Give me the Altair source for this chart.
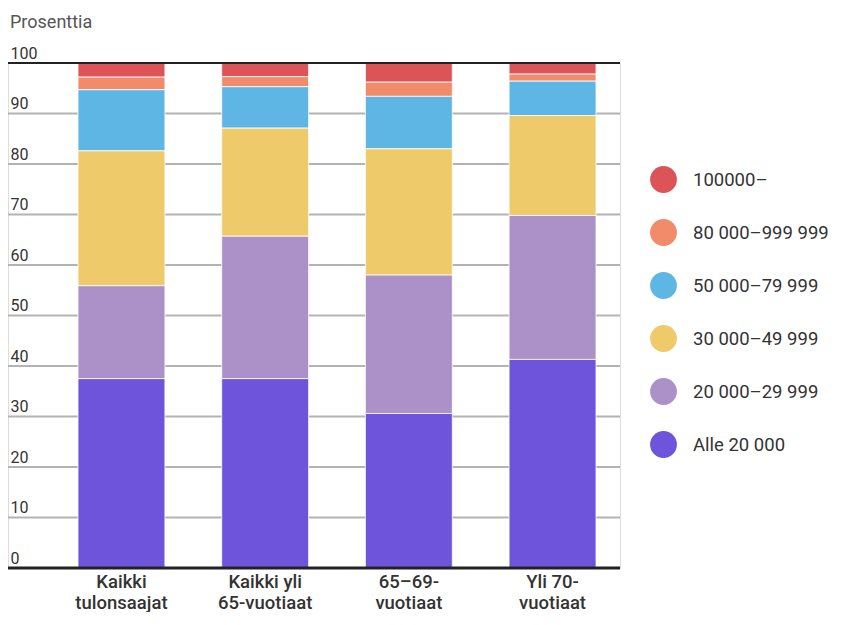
import altair as alt
import pandas as pd

categories = ["Kaikki|tulonsaajat", "Kaikki yli|65-vuotiaat", "65\u201369-|vuotiaat", "Yli 70-|vuotiaat"]
groups = ["100000\u2013", "80 000\u2013999 999", "50 000\u201379 999", "30 000\u201349 999", "20 000\u201329 999", "Alle 20 000"]
colors = ["#dd5458", "#f28b6a", "#5eb6e4", "#eeca6b", "#ab91c7", "#6e54db"]

alle_20000 = [37.5, 37.5, 30.6, 41.3]
k20_30 = [18.4, 28.2, 27.4, 28.5]
k30_50 = [26.7, 21.4, 25.0, 19.8]
k50_80 = [12.1, 8.2, 10.4, 6.8]
k80_100 = [2.5, 2.0, 2.8, 1.4]
k100 = [2.8, 2.7, 3.8, 2.2]

y_ticks = [0, 10, 20, 30, 40, 50, 60, 70, 80, 90, 100]

series = [k100, k80_100, k50_80, k30_50, k20_30, alle_20000]
rows = []
for gi, (g, vals) in enumerate(zip(groups, series)):
    for c, v in zip(categories, vals):
        rows.append({"cat": c, "group": g, "value": v, "order": len(groups) - gi})
df = pd.DataFrame(rows)

W, H = 612, 505
yscale = alt.Scale(domain=[0, 100], nice=False)
yaxis = alt.Axis(title=None, values=y_ticks, grid=False, domain=False, ticks=False,
                 tickSize=0, labelAlign="left", labelBaseline="alphabetic",
                 labelPadding=-2, labelOffset=-5, labelFont="Roboto",
                 labelFontSize=16, labelColor="#333333", labelOverlap=False)

grid = alt.Chart(pd.DataFrame({"v": [t for t in y_ticks if 0 < t < 100]})).mark_rule(
    color="#b3b3b3", strokeWidth=2
).encode(y=alt.Y("v:Q", scale=yscale, axis=yaxis), x=alt.value(0), x2=alt.value(W))

bars = alt.Chart(df).mark_bar(stroke="white", strokeWidth=1, strokeOpacity=0.8).encode(
    x=alt.X("cat:N", sort=categories,
            scale=alt.Scale(range=[70, 588], paddingInner=0.395, paddingOuter=0),
            axis=alt.Axis(title=None, domain=False, ticks=False, labelAngle=0,
                          labelExpr="split(datum.value, '|')",
                          labelFont="Roboto", labelFontSize=18.5, labelFontWeight=500,
                          labelColor="#333333", labelBaseline="top", labelPadding=4,
                          labelLineHeight=21)),
    y=alt.Y("value:Q", stack="zero", scale=yscale, axis=yaxis),
    color=alt.Color("group:N", scale=alt.Scale(domain=groups, range=colors),
                    legend=alt.Legend(title=None, orient="none", legendX=642, legendY=103,
                                      symbolType="circle", symbolSize=720, symbolStrokeWidth=0,
                                      symbolOpacity=1, labelFont="Roboto", labelFontSize=18.5,
                                      labelColor="#333333", labelOffset=16, rowPadding=26,
                                      padding=0, labelLimit=300)),
    order=alt.Order("order:Q", sort="ascending"),
)

edges = alt.Chart(pd.DataFrame({"v": [0, 100], "w": [3, 2]})).mark_rule(color="#222222").encode(
    y=alt.Y("v:Q", scale=yscale, axis=yaxis), x=alt.value(0), x2=alt.value(W),
    strokeWidth=alt.StrokeWidth("w:Q", scale=None, legend=None),
)

title = alt.Chart(pd.DataFrame({"t": ["Prosenttia"]})).mark_text(
    align="left", baseline="alphabetic", font="Roboto", fontSize=18, color="#555555"
).encode(text="t:N", x=alt.value(2), y=alt.value(-35))

chart = alt.layer(grid, bars, edges, title).properties(
    width=W, height=H,
    autosize=alt.AutoSizeParams(type="none"),
    padding={"left": 0, "top": 55, "right": 219, "bottom": 44},
).configure_view(stroke=None).configure(background="white")

chart.save("out.html", embed_options={"renderer": "svg", "actions": False})
